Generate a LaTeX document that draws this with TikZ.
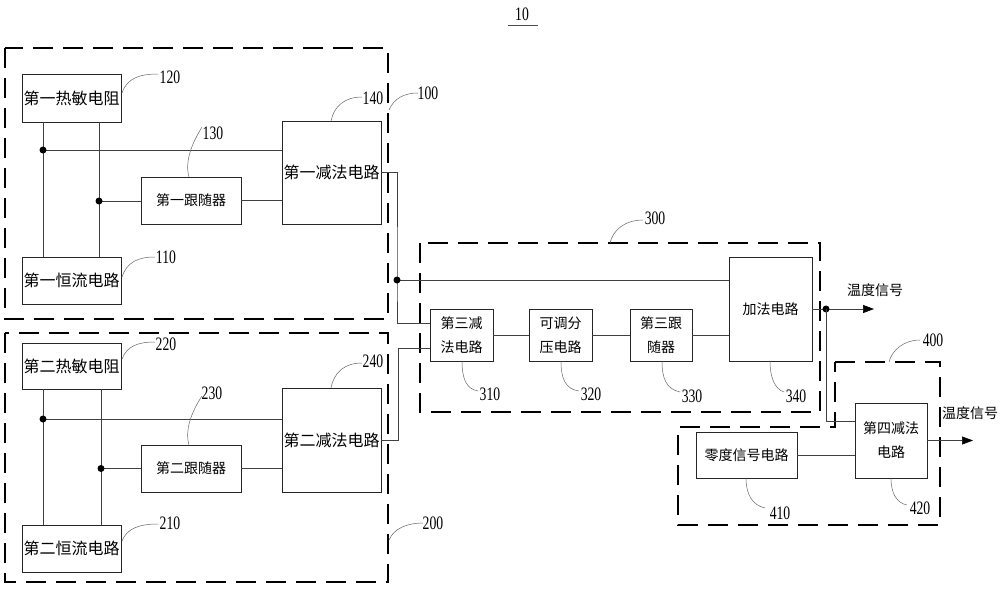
\documentclass[tikz,border=0pt]{standalone}
\usepackage{fontspec}
\setmainfont{Liberation Serif}
\newfontfamily\cjk{Noto Sans CJK SC}
\newfontfamily\numf[FakeStretch=0.72]{Liberation Serif}
\usetikzlibrary{arrows.meta}
\begin{document}
\begin{tikzpicture}[x=1pt,y=-1pt,
  box/.style={draw=black!85, line width=0.8pt, inner sep=0pt, align=center,
              font=\cjk\fontsize{14}{24}\selectfont},
  bigtext/.style={font=\cjk\fontsize{16}{24}\selectfont},
  wire/.style={draw=black!75, line width=0.6pt},
  grp/.style={draw=black, line width=2.4pt, dash pattern=on 20pt off 10pt},
  lead/.style={draw=black!60, line width=0.5pt},
  num/.style={font=\numf\fontsize{19}{19}\selectfont, inner sep=0pt},
  lbl/.style={font=\cjk\fontsize{14}{14}\selectfont, inner sep=0pt},
  jdot/.style={circle, fill=black, inner sep=0pt, minimum size=7pt},
  arr/.style={wire, -{Triangle[length=11pt,width=8pt,color=black]}},
]
\useasboundingbox (0,0) rectangle (1000,589);

% title
\node[num] (title) at (522,14) {10};
\draw[line width=0.6pt, draw=black!70] (508,25) -- (538,25);

% dashed groups
\draw[grp] (5,48) rectangle (388,319);
\draw[grp] (5,333) rectangle (388,582);
\draw[grp] (420,243) rectangle (820,412);
\draw[grp] (835,362) -- (940,362) -- (940,525) -- (678,525) -- (678,427) -- (835,427) -- cycle;

% group 100
\node[box, bigtext, minimum width=99pt, minimum height=48pt] (r1) at (71.5,98) {第一热敏电阻};
\node[box, bigtext, minimum width=99pt, minimum height=47pt] (c1) at (71.5,280.5) {第一恒流电路};
\node[box, minimum width=100pt, minimum height=47pt] (f1) at (191,200.5) {第一跟随器};
\node[box, bigtext, minimum width=99pt, minimum height=103pt] (s1) at (331.5,172.5) {第一减法电路};

% group 200
\node[box, bigtext, minimum width=99pt, minimum height=46pt] (r2) at (71.5,366) {第二热敏电阻};
\node[box, bigtext, minimum width=99pt, minimum height=47pt] (c2) at (71.5,548.5) {第二恒流电路};
\node[box, minimum width=100pt, minimum height=47pt] (f2) at (191,468.5) {第二跟随器};
\node[box, bigtext, minimum width=99pt, minimum height=104pt] (s2) at (331.5,440) {第二减法电路};

% group 300
\node[box, minimum width=63pt, minimum height=52pt] (s3) at (461.5,335) {第三减\\法电路};
\node[box, minimum width=63pt, minimum height=52pt] (dv) at (560.5,335) {可调分\\压电路};
\node[box, minimum width=62pt, minimum height=52pt] (f3) at (661,335) {第三跟\\随器};
\node[box, minimum width=83pt, minimum height=104pt] (add) at (770.5,309) {加法电路};

% group 400
\node[box, minimum width=101pt, minimum height=46pt] (zero) at (746.5,455) {零度信号电路};
\node[box, minimum width=72pt, minimum height=75pt] (s4) at (891,440.5) {第四减法\\电路};

% junctions
\coordinate (ja) at (43,150);
\coordinate (jb) at (99,201);
\coordinate (ja2) at (43,419);
\coordinate (jb2) at (101,468.5);
\coordinate (jc) at (397,280);
\coordinate (jd) at (826,309);
\coordinate (o1) at (874,309);
\coordinate (o2) at (973,440.5);
\coordinate (s3a) at ([yshift=12pt]s3.west);
\coordinate (s3b) at ([yshift=-13pt]s3.west);
\coordinate (s4a) at ([yshift=19.5pt]s4.west);

% wires group 100
\draw[wire] (r1.south -| ja) -- (c1.north -| ja);
\draw[wire] (r1.south -| jb) -- (c1.north -| jb);
\draw[wire] (ja) -- (ja -| s1.west);
\draw[wire] (jb) -- (jb -| f1.west);
\draw[wire] (f1.east) -- (f1.east -| s1.west);
\node[jdot] (da) at (ja) {};
\node[jdot] (db) at (jb) {};

% wires group 200
\draw[wire] (r2.south -| ja2) -- (c2.north -| ja2);
\draw[wire] (r2.south -| jb2) -- (c2.north -| jb2);
\draw[wire] (ja2) -- (ja2 -| s2.west);
\draw[wire] (jb2) -- (jb2 -| f2.west);
\draw[wire] (f2.east) -- (f2.east -| s2.west);
\node[jdot] (da2) at (ja2) {};
\node[jdot] (db2) at (jb2) {};

% to group 300
\draw[wire] (s1.east) -| (jc) -- (jc |- s3a) -- (s3a);
\draw[wire] (jc) -- (jc -| add.west);
\node[jdot] (dc) at (jc) {};
\draw[wire] (s2.east) -- ++(17,0) |- (s3b);
\draw[wire] (s3.east) -- (dv.west);
\draw[wire] (dv.east) -- (f3.west);
\draw[wire] (f3.east) -- (f3.east -| add.west);

% outputs
\draw[wire] (add.east |- jd) -- (jd);
\draw[arr] (jd) -- (o1);
\node[jdot] (dd) at (jd) {};
\draw[wire] (jd) |- (s4a);
\draw[wire] (zero.east) -- (zero.east -| s4.west);
\draw[arr] (s4.east |- o2) -- (o2);
\node[lbl] (t1) at (875,290) {温度信号};
\node[lbl] (t2) at (970,413) {温度信号};

% reference numerals with leaders
\node[num] (n120) at (170,77) {120};
\draw[lead] (122,93) .. controls (127,78) and (140,74) .. (158,74);
\node[num] (n110) at (166,257) {110};
\draw[lead] (122,277) .. controls (127,262) and (138,257) .. (155,257);
\node[num] (n130) at (213,133) {130};
\draw[lead] (189,177) .. controls (184,160) and (194,140) .. (202,127);
\node[num] (n140) at (373,98) {140};
\draw[lead] (331,121) .. controls (334,106) and (345,97) .. (362,97);
\node[num] (n100) at (428,93) {100};
\draw[lead] (389,110) .. controls (394,98) and (405,93) .. (418,93);

\node[num] (n220) at (166,344) {220};
\draw[lead] (122,359) .. controls (127,346) and (138,342) .. (155,342);
\node[num] (n210) at (170,523) {210};
\draw[lead] (122,541) .. controls (127,528) and (140,524) .. (158,524);
\node[num] (n230) at (212,393) {230};
\draw[lead] (189,445) .. controls (184,428) and (194,408) .. (202,396);
\node[num] (n240) at (373,361) {240};
\draw[lead] (331,388) .. controls (334,372) and (345,363) .. (362,363);
\node[num] (n200) at (433,523) {200};
\draw[lead] (389,540) .. controls (394,528) and (408,523) .. (423,523);

\node[num] (n300) at (655,218) {300};
\draw[lead] (610,243) .. controls (613,230) and (625,220) .. (643,220);
\node[num] (n310) at (490,394) {310};
\draw[lead] (462,361) .. controls (462,378) and (466,389) .. (478,391);
\node[num] (n320) at (591,394) {320};
\draw[lead] (561,361) .. controls (561,378) and (565,389) .. (579,391);
\node[num] (n330) at (692,396) {330};
\draw[lead] (662,361) .. controls (662,378) and (666,389) .. (680,392);
\node[num] (n340) at (796,396) {340};
\draw[lead] (770,361) .. controls (770,378) and (775,389) .. (784,392);

\node[num] (n400) at (933,340) {400};
\draw[lead] (889,362) .. controls (892,350) and (904,340) .. (920,340);
\node[num] (n410) at (780,513) {410};
\draw[lead] (746,478) .. controls (746,494) and (752,505) .. (765,508);
\node[num] (n420) at (920,508) {420};
\draw[lead] (891,478) .. controls (891,494) and (897,503) .. (907,505);
\end{tikzpicture}
\end{document}
